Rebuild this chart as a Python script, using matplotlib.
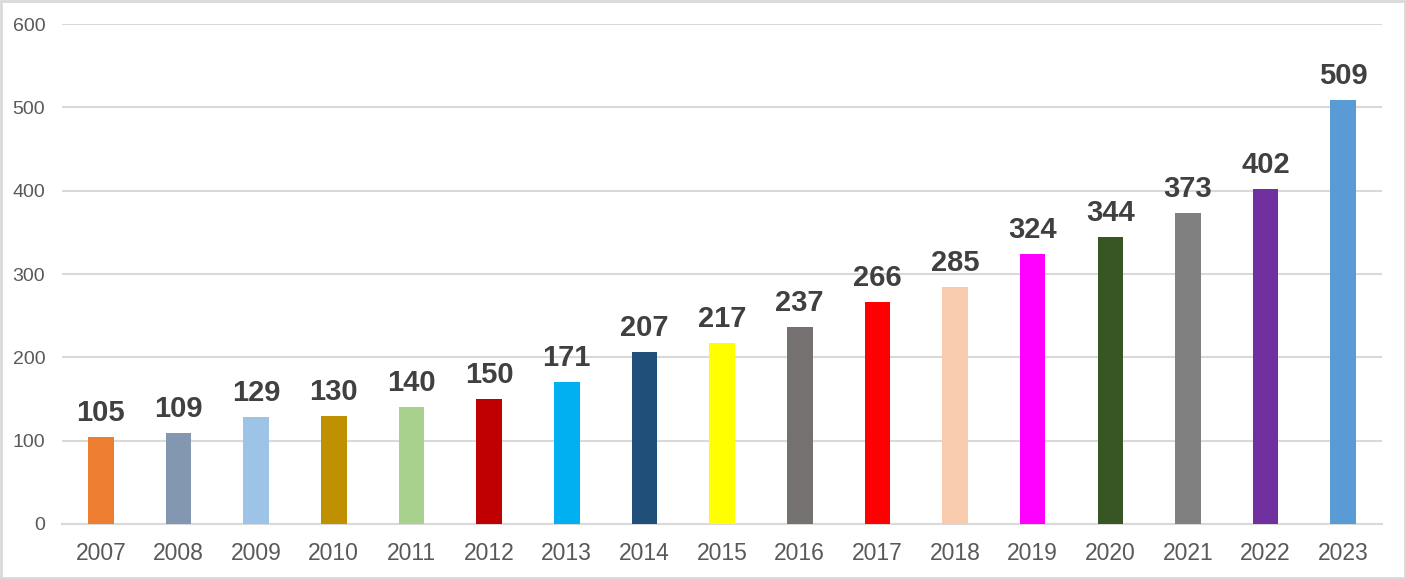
import matplotlib.pyplot as plt
from matplotlib.patches import Rectangle

years = ['2007', '2008', '2009', '2010', '2011', '2012', '2013', '2014', '2015',
         '2016', '2017', '2018', '2019', '2020', '2021', '2022', '2023']
values = [105, 109, 129, 130, 140, 150, 171, 207, 217, 237, 266, 285, 324, 344, 373, 402, 509]
colors = ['#ED7D31', '#8497B0', '#9DC3E6', '#BF9000', '#A9D18E', '#C00000', '#00B0F0',
          '#1F4E79', '#FFFF00', '#767171', '#FF0000', '#F8CBAD', '#FF00FF', '#375623',
          '#808080', '#7030A0', '#5B9BD5']

plt.rcParams['font.family'] = ['Liberation Sans', 'DejaVu Sans']

fig = plt.figure(figsize=(14.06, 5.79), dpi=100)
ax = fig.add_axes([0.0441, 0.095, 0.9389, 0.8635])

x = range(len(years))
bars = ax.bar(x, values, width=0.33, color=colors, zorder=3)
for b, v in zip(bars, values):
    ax.text(b.get_x() + b.get_width() / 2, v + 12, str(v), ha='center', va='bottom',
            fontsize=21, fontweight='bold', color='#404040')

ax.set_xlim(-0.5, len(years) - 0.5)
ax.set_ylim(0, 600)
ax.set_yticks(range(0, 601, 100))
ax.set_xticks(list(x))
ax.set_xticklabels(years)
ax.tick_params(axis='x', length=0, labelsize=16.5, labelcolor='#595959', pad=13)
ax.tick_params(axis='y', length=0, labelsize=14, labelcolor='#595959', pad=12)
ax.grid(axis='y', color='#D9D9D9', linewidth=1.5, zorder=0)
for s in ['top', 'right', 'left']:
    ax.spines[s].set_visible(False)
ax.spines['bottom'].set_color('#D9D9D9')
ax.spines['bottom'].set_linewidth(1.5)

fig.patches.append(Rectangle((0.001, 0.002), 0.998, 0.996, transform=fig.transFigure,
                             fill=False, edgecolor='#D9D9D9', linewidth=2))

fig.savefig('out.png', dpi=100)
